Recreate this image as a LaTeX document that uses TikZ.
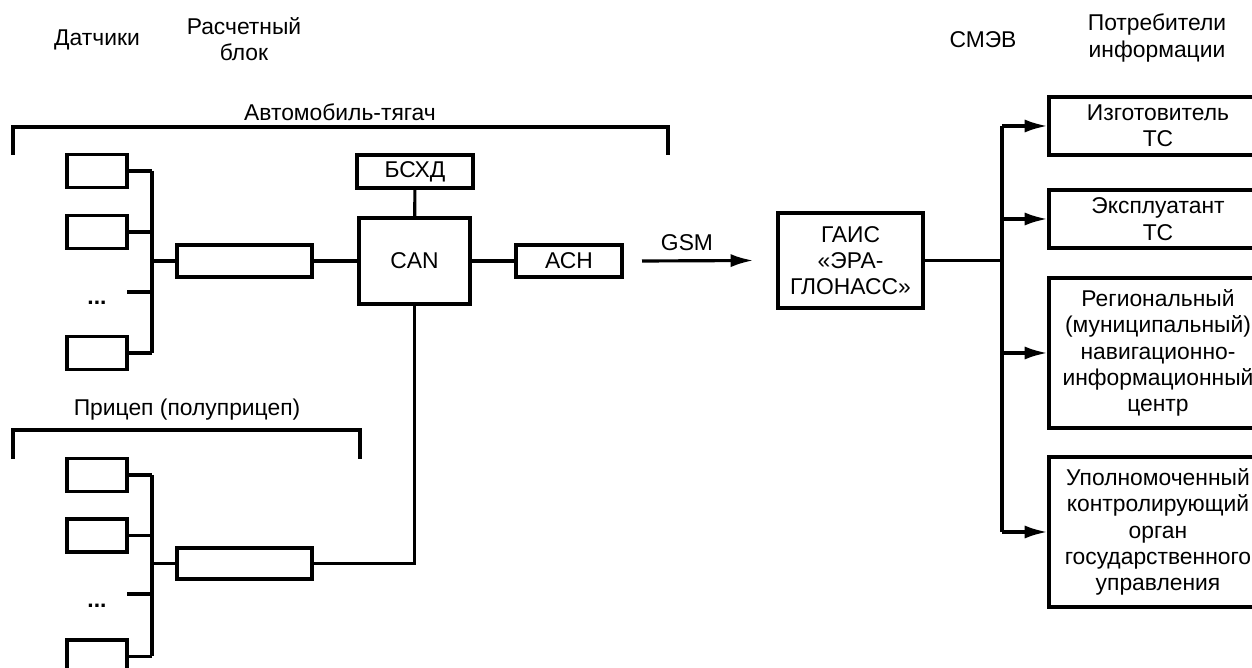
\documentclass[tikz,border=0pt]{standalone}
\usepackage{fontspec}
\setmainfont{Liberation Sans}
\usetikzlibrary{arrows.meta,positioning,calc}

\tikzset{
	ln/.style={line width=1.8pt},
	blk/.style={draw, line width=1.8pt, inner sep=0pt, align=center},
	sensor/.style={blk, minimum width=1.2cm, minimum height=0.66cm},
	calcblk/.style={blk, minimum width=2.7cm, minimum height=0.64cm},
	consumer/.style={blk, minimum width=4.36cm},
	arr/.style={line width=1.8pt, -{Latex[length=13pt,width=7.5pt]}},
	lbl/.style={align=center, inner sep=0pt},
}

\begin{document}
\begin{tikzpicture}[x=0.02cm, y=-0.02cm, font=\fontsize{13}{15}\selectfont]
	\clip (0,0) rectangle (1252,668);
	% headers
	\node[lbl] (hsens) at (97,40) {Датчики};
	\node[lbl] (hcalc) at (244,39) {Расчетный\\блок};
	\node[lbl] (hsmev) at (983,40) {СМЭВ};
	\node[lbl] (hcons) at (1157,38) {Потребители\\информации};

	% tractor
	\draw[ln] (13,155) |- (668,127) -- (668,155);
	\node[lbl] (tractor) at (340,112) {Автомобиль-тягач};
	\foreach \n/\y in {1/171,2/232,4/353} {
		\node[sensor] (ts\n) at (97,\y) {};
	}
	\coordinate (ttop) at (152,171);
	\coordinate (tdots) at (127,292);
	\draw[ln] (ttop) -- (ttop |- ts4.east);
	\foreach \n in {1,2,4} {
		\draw[ln] (ts\n.east) -- (ts\n.east -| ttop);
	}
	\draw[ln] (tdots) -- (tdots -| ttop);
	\node[lbl] (tdottxt) at (97,303) {\textbf{...}};
	\node[calcblk] (tcalc) at (244.5,261) {};
	\draw[ln] (tcalc.west -| ttop) -- (tcalc.west);
	\node[blk, minimum width=2.22cm, minimum height=1.72cm] (can) at (414.5,261) {CAN};
	\node[blk, minimum width=2.32cm, minimum height=0.66cm] (bshd) at (415,171.5) {БСХД};
	\node[blk, minimum width=2.12cm, minimum height=0.64cm] (ash) at (569,261) {АСН};
	\draw[ln] (tcalc) -- (can);
	\draw[ln] (bshd) -- (can);
	\draw[ln] (can) -- (ash);

	% trailer
	\draw[ln] (13,459) |- (360,430) -- (360,459);
	\node[lbl] (trailer) at (187,410) {Прицеп (полуприцеп)};
	\foreach \n/\y in {1/475,2/535.5,4/656.5} {
		\node[sensor] (rs\n) at (97,\y) {};
	}
	\coordinate (rtop) at (152,475);
	\coordinate (rdots) at (127,594);
	\draw[ln] (rtop) -- (rtop |- rs4.east);
	\foreach \n in {1,2,4} {
		\draw[ln] (rs\n.east) -- (rs\n.east -| rtop);
	}
	\draw[ln] (rdots) -- (rdots -| rtop);
	\node[lbl] (rdottxt) at (97,606) {\textbf{...}};
	\node[calcblk, minimum height=0.62cm] (rcalc) at (244.5,563.5) {};
	\draw[ln] (rcalc.west -| rtop) -- (rcalc.west);
	\draw[ln] (rcalc.east) -| (can.south);

	% GSM link
	\node[blk, minimum width=2.9cm, minimum height=1.9cm] (gais) at (850.5,260.5) {ГАИС\\«ЭРА-\\ГЛОНАСС»};
	\coordinate (gsm) at (642,261);
	\draw[arr] (gsm) -- ([xshift=-0.46cm]gais.west);
	\node[lbl] (gsmtxt) at (687,243) {GSM};

	% consumers
	\node[consumer, minimum height=1.16cm] (c1) at (1158,126) {Изготовитель\\ТС};
	\node[consumer, minimum height=1.16cm] (c2) at (1158,219) {Эксплуатант\\ТС};
	\node[consumer, minimum height=3cm] (c3) at (1158,353) {Региональный\\(муниципальный)\\навигационно-\\информационный\\центр};
	\node[consumer, minimum height=3cm] (c4) at (1158,532) {Уполномоченный\\контролирующий\\орган\\государственного\\управления};
	\coordinate (cbus) at (1002,126);
	\draw[ln] (cbus) -- (cbus |- c4.west);
	\draw[ln] (gais.east) -- (gais.east -| cbus);
	\foreach \n in {1,2,3,4} {
		\draw[arr] (c\n.west -| cbus) -- (c\n.west);
	}
\end{tikzpicture}
\end{document}
